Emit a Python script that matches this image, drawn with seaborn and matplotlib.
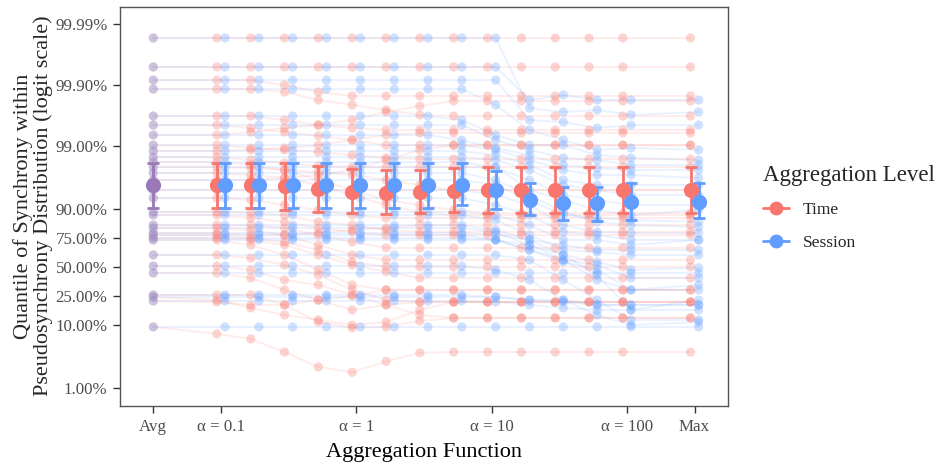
import numpy as np
import pandas as pd
import matplotlib
matplotlib.use("Agg")
import matplotlib.pyplot as plt
import seaborn as sns
from matplotlib.lines import Line2D
from matplotlib.ticker import FixedLocator, FixedFormatter, NullLocator, NullFormatter

# ---------------- data (quantiles in percent) ----------------
ALPHAS = [0.1, 0.178, 0.316, 0.562, 1.0, 1.78, 3.16, 5.62, 10.0, 17.8, 31.6, 56.2, 100.0]
LEVELS = ["Time", "Session"]
X_TICK_LABELS = ["Avg", "α = 0.1", "α = 1", "α = 10", "α = 100", "Max"]
Y_TICKS = [0.01, 0.10, 0.25, 0.50, 0.75, 0.90, 0.99, 0.999, 0.9999]
Y_TICK_LABELS = ["1.00%", "10.00%", "25.00%", "50.00%", "75.00%", "90.00%",
                 "99.00%", "99.90%", "99.99%"]

# per-subject value of the Avg aggregation (shared by both levels)
AVG = [99.983, 99.949, 99.916, 99.882, 99.673, 99.54, 99.33, 99.02, 98.78, 98.47,
       98.16, 97.78, 97.24, 96.42, 94.86, 93.16, 88.9, 87.7, 83.0, 81.4,
       78.3, 77.0, 74.9, 73.5, 61.1, 50.8, 44.2, 25.6, 24.2, 21.5, 9.3]

# per-subject values for alpha = 0.1 ... 100, then Max
TIME = [
    [99.983, 99.983, 99.983, 99.983, 99.983, 99.983, 99.983, 99.983, 99.983, 99.983, 99.983, 99.983, 99.983, 99.983],
    [99.949, 99.949, 99.949, 99.949, 99.949, 99.949, 99.949, 99.949, 99.949, 99.949, 99.949, 99.949, 99.949, 99.949],
    [99.916, 99.916, 99.899, 99.868, 99.847, 99.847, 99.847, 99.847, 99.847, 99.847, 99.847, 99.847, 99.847, 99.847],
    [99.882, 99.882, 99.868, 99.822, 99.785, 99.74, 99.686, 99.673, 99.673, 99.673, 99.673, 99.673, 99.673, 99.673],
    [99.673, 99.673, 99.62, 99.54, 99.486, 99.446, 99.446, 99.446, 99.446, 99.446, 99.446, 99.446, 99.446, 99.446],
    [99.54, 99.486, 99.40, 99.31, 99.19, 99.02, 99.02, 99.02, 99.02, 99.02, 99.02, 99.02, 99.02, 99.02],
    [99.33, 99.40, 99.486, 99.54, 99.62, 99.719, 99.776, 99.815, 99.815, 99.815, 99.815, 99.815, 99.815, 99.815],
    [99.02, 98.91, 98.83, 98.73, 98.58, 98.42, 98.35, 98.35, 98.35, 98.35, 98.35, 98.35, 98.35, 98.35],
    [98.78, 98.83, 98.91, 99.02, 99.19, 99.33, 99.38, 99.38, 99.38, 99.38, 99.38, 99.38, 99.38, 99.38],
    [98.47, 98.29, 98.09, 97.86, 97.78, 97.78, 97.78, 97.78, 97.78, 97.78, 97.78, 97.78, 97.78, 97.78],
    [98.16, 97.94, 97.52, 96.42, 94.86, 92.67, 91.26, 89.63, 88.5, 88.5, 88.5, 88.5, 88.5, 88.5],
    [97.78, 97.70, 97.52, 97.33, 97.02, 96.42, 95.71, 94.86, 94.86, 94.86, 94.86, 94.86, 94.86, 94.86],
    [97.24, 97.02, 96.68, 95.71, 93.85, 91.26, 88.9, 87.7, 87.7, 87.7, 87.7, 87.7, 87.7, 87.7],
    [96.42, 96.42, 96.68, 97.02, 97.52, 98.29, 98.83, 99.02, 99.02, 99.02, 99.02, 99.02, 99.02, 99.02],
    [94.86, 94.86, 94.86, 94.86, 94.86, 94.86, 94.86, 94.86, 94.86, 94.86, 94.86, 94.86, 94.86, 94.86],
    [93.16, 92.67, 91.26, 89.63, 87.7, 86.45, 86.45, 86.45, 86.45, 86.45, 86.45, 86.45, 86.45, 86.45],
    [88.9, 88.5, 87.7, 84.6, 83.0, 80.2, 79.0, 79.0, 79.0, 79.0, 79.0, 79.0, 79.0, 79.0],
    [87.7, 86.45, 84.6, 81.4, 79.0, 77.0, 77.0, 77.0, 77.0, 77.0, 77.0, 77.0, 77.0, 77.0],
    [83.0, 83.0, 81.4, 77.0, 72.0, 67.2, 67.2, 67.2, 67.2, 67.2, 67.2, 67.2, 67.2, 67.2],
    [81.4, 80.2, 77.0, 69.6, 61.1, 56.5, 56.5, 56.5, 56.5, 56.5, 56.5, 56.5, 56.5, 56.5],
    [78.3, 77.0, 77.0, 78.3, 80.2, 81.4, 83.0, 83.0, 83.0, 83.0, 83.0, 83.0, 83.0, 83.0],
    [77.0, 74.9, 72.0, 65.5, 54.6, 50.0, 50.0, 50.0, 50.0, 50.0, 50.0, 50.0, 50.0, 50.0],
    [74.9, 73.5, 69.6, 61.1, 51.8, 45.3, 39.6, 39.6, 39.6, 39.6, 39.6, 39.6, 39.6, 39.6],
    [73.5, 69.6, 61.1, 47.2, 33.5, 29.4, 29.4, 29.4, 29.4, 29.4, 29.4, 29.4, 29.4, 29.4],
    [61.1, 58.3, 51.8, 42.3, 29.4, 22.1, 20.9, 20.9, 20.9, 20.9, 20.9, 20.9, 20.9, 20.9],
    [50.8, 47.2, 37.8, 33.5, 25.6, 19.1, 13.9, 12.6, 12.6, 12.6, 12.6, 12.6, 12.6, 12.6],
    [44.2, 39.6, 29.4, 22.1, 16.3, 19.1, 20.9, 20.9, 20.9, 20.9, 20.9, 20.9, 20.9, 20.9],
    [25.6, 25.6, 19.1, 11.0, 9.0, 9.3, 11.4, 12.6, 12.6, 12.6, 12.6, 12.6, 12.6, 12.6],
    [22.1, 17.4, 13.9, 11.8, 9.9, 11.0, 16.3, 20.9, 20.9, 20.9, 20.9, 20.9, 20.9, 20.9],
    [20.9, 19.1, 19.1, 22.1, 24.9, 29.4, 29.4, 29.4, 29.4, 29.4, 29.4, 29.4, 29.4, 29.4],
    [7.3, 6.1, 3.8, 2.2, 1.8, 2.7, 3.7, 3.8, 3.8, 3.8, 3.8, 3.8, 3.8, 3.8],
]

SESSION = [
    [99.983, 99.983, 99.983, 99.983, 99.983, 99.983, 99.983, 99.983, 99.983, 99.758, 99.719, 99.74, 99.686, 99.719],
    [99.949, 99.949, 99.949, 99.949, 99.949, 99.949, 99.949, 99.949, 99.949, 99.822, 99.853, 99.822, 99.822, 99.822],
    [99.916, 99.916, 99.916, 99.916, 99.916, 99.916, 99.916, 99.916, 99.916, 99.62, 99.59, 99.486, 99.54, 99.54],
    [99.882, 99.882, 99.882, 99.882, 99.882, 99.882, 99.882, 99.882, 99.785, 99.446, 99.19, 98.83, 98.91, 98.83],
    [99.673, 99.673, 99.673, 99.673, 99.673, 99.673, 99.673, 99.62, 99.33, 99.02, 99.02, 98.58, 98.42, 98.29],
    [99.54, 99.54, 99.54, 99.54, 99.54, 99.54, 99.54, 99.54, 99.19, 98.83, 98.42, 98.29, 97.94, 97.94],
    [99.33, 99.33, 99.33, 99.33, 99.33, 99.33, 99.33, 99.19, 98.91, 98.58, 97.94, 97.70, 97.52, 97.52],
    [99.02, 99.02, 99.02, 99.02, 99.02, 99.02, 99.02, 99.02, 98.83, 98.29, 97.52, 97.02, 97.02, 96.68],
    [98.78, 98.78, 98.78, 98.78, 98.78, 98.78, 98.78, 98.78, 98.58, 97.94, 96.42, 95.71, 95.71, 95.71],
    [98.47, 98.47, 98.47, 98.47, 98.47, 98.47, 98.47, 98.47, 98.29, 97.52, 95.71, 94.86, 93.85, 93.85],
    [98.16, 98.16, 98.16, 98.16, 98.16, 98.16, 98.16, 98.16, 97.70, 96.42, 93.85, 92.67, 91.26, 91.26],
    [97.78, 97.78, 97.78, 97.78, 97.78, 97.78, 97.78, 97.78, 97.78, 94.86, 92.67, 89.63, 87.7, 89.63],
    [97.24, 97.24, 97.24, 97.24, 97.24, 97.24, 97.24, 97.24, 96.42, 93.85, 88.9, 84.6, 83.0, 81.9],
    [96.42, 96.42, 96.42, 96.42, 96.42, 96.42, 96.42, 96.42, 95.71, 92.67, 87.7, 86.45, 85.5, 84.6],
    [94.86, 94.86, 94.86, 94.86, 94.86, 94.86, 94.86, 94.86, 93.85, 91.26, 83.0, 79.0, 78.3, 78.3],
    [93.16, 93.16, 93.16, 93.16, 93.16, 93.16, 93.16, 93.16, 91.26, 87.7, 79.0, 77.0, 73.5, 73.5],
    [88.9, 88.9, 88.9, 88.9, 88.9, 88.9, 88.9, 88.9, 87.7, 83.0, 73.5, 73.5, 69.6, 73.5],
    [87.7, 87.7, 87.7, 87.7, 87.7, 87.7, 87.7, 87.7, 85.5, 77.0, 65.5, 63.7, 61.1, 61.1],
    [83.0, 83.0, 83.0, 83.0, 83.0, 83.0, 83.0, 83.0, 80.2, 73.5, 61.1, 54.6, 47.2, 49.1],
    [81.4, 81.4, 81.4, 81.4, 81.4, 81.4, 81.4, 81.4, 79.0, 69.6, 56.5, 51.8, 39.6, 39.6],
    [78.3, 78.3, 78.3, 78.3, 78.3, 78.3, 78.3, 78.3, 77.0, 73.5, 69.6, 65.5, 65.5, 65.5],
    [77.0, 77.0, 77.0, 77.0, 77.0, 77.0, 77.0, 77.0, 73.5, 65.5, 54.6, 47.2, 29.4, 33.5],
    [74.9, 74.9, 74.9, 74.9, 74.9, 74.9, 74.9, 74.9, 73.5, 65.5, 56.5, 37.8, 29.4, 29.4],
    [73.5, 73.5, 73.5, 73.5, 73.5, 73.5, 73.5, 73.5, 73.5, 69.6, 61.1, 42.3, 16.3, 22.1],
    [61.1, 61.1, 61.1, 61.1, 61.1, 61.1, 61.1, 61.1, 61.1, 56.5, 37.8, 22.1, 11.8, 11.8],
    [50.8, 50.8, 50.8, 50.8, 50.8, 50.8, 50.8, 50.8, 47.2, 37.8, 22.1, 13.9, 9.9, 11.0],
    [44.2, 44.2, 44.2, 44.2, 44.2, 44.2, 44.2, 44.2, 44.2, 44.2, 44.2, 44.2, 44.2, 44.2],
    [25.6, 25.6, 25.6, 25.6, 25.6, 25.6, 25.6, 25.6, 24.2, 22.1, 20.9, 19.1, 19.1, 19.1],
    [24.2, 24.2, 24.2, 24.2, 24.2, 24.2, 24.2, 24.2, 24.2, 22.1, 22.1, 19.1, 19.1, 19.1],
    [21.5, 21.5, 21.5, 21.5, 21.5, 21.5, 21.5, 21.5, 20.9, 19.1, 17.4, 16.3, 16.3, 16.3],
    [9.3, 9.3, 9.3, 9.3, 9.3, 9.3, 9.3, 9.3, 9.3, 9.3, 9.3, 9.3, 9.3, 9.3],
]

# summary points with error bars (percent): Avg, then alpha 0.1 ... 100, Max
AVG_MEAN, AVG_LO, AVG_HI = 95.71, 90.31, 98.09
TIME_MEAN = [95.71, 95.71, 95.55, 95.04, 94.47, 94.27, 94.47, 94.67, 94.86, 94.86, 94.86, 94.86, 94.86, 94.86]
TIME_LO = [90.31, 90.31, 89.63, 88.9, 88.5, 88.1, 88.5, 88.9, 88.5, 88.5, 88.5, 88.5, 88.5, 88.5]
TIME_HI = [98.09, 98.09, 98.09, 97.86, 97.61, 97.52, 97.52, 97.70, 97.78, 97.78, 97.78, 97.78, 97.78, 97.78]
SESSION_MEAN = [95.71, 95.71, 95.71, 95.71, 95.71, 95.71, 95.71, 95.71, 94.86, 92.67, 91.85, 91.85, 92.13, 92.13]
SESSION_LO = [90.31, 90.31, 90.31, 90.31, 90.31, 90.31, 90.31, 91.26, 89.97, 87.7, 85.5, 85.06, 85.5, 86.45]
SESSION_HI = [98.09, 98.09, 98.09, 98.09, 98.09, 98.09, 98.09, 98.09, 97.43, 96.0, 95.39, 95.39, 96.0, 96.0]

# ---------------- layout / style ----------------
COLORS = {"Time": "#F8766D", "Session": "#619CFF"}
AVG_COLOR = "#9B79B8"
AVG_X, MAX_X = -1.5, 2.5
DODGE = {"Time": -0.03, "Session": 0.03}
POS = list(np.log10(ALPHAS)) + [MAX_X]

sns.set_style("white")
plt.rcParams["font.family"] = ["Liberation Serif", "DejaVu Serif"]

rows = []
for i, avg in enumerate(AVG):
    for level, series in (("Time", TIME[i]), ("Session", SESSION[i])):
        rows.append((i, level, AVG_X, avg / 100))
        for p, v in zip(POS, series):
            rows.append((i, level, p + DODGE[level], v / 100))
df = pd.DataFrame(rows, columns=["subject", "level", "x", "q"])

fig = plt.figure(figsize=(9.39, 4.67), dpi=100)
ax = fig.add_axes([0.1278, 0.1306, 0.6475, 0.8544])
ax.set_yscale("logit")

sns.lineplot(data=df, x="x", y="q", hue="level", units="subject", estimator=None,
             palette=COLORS, alpha=0.13, linewidth=1.4, sort=False, legend=False, ax=ax)
sns.scatterplot(data=df, x="x", y="q", hue="level", palette=COLORS, alpha=0.3,
                s=44, linewidth=0, legend=False, ax=ax, zorder=2)

# summary: Avg
ax.errorbar([AVG_X], [AVG_MEAN / 100],
            yerr=[[(AVG_MEAN - AVG_LO) / 100], [(AVG_HI - AVG_MEAN) / 100]],
            fmt="none", ecolor=AVG_COLOR, elinewidth=2, capsize=4.6, capthick=2, zorder=3)
sns.scatterplot(x=[AVG_X], y=[AVG_MEAN / 100], color=AVG_COLOR, s=120, linewidth=0,
                ax=ax, zorder=4, legend=False)

for level, mean, lo, hi in (("Time", TIME_MEAN, TIME_LO, TIME_HI),
                            ("Session", SESSION_MEAN, SESSION_LO, SESSION_HI)):
    xs = [p + DODGE[level] for p in POS]
    m = np.array(mean) / 100
    l = np.array(lo) / 100
    h = np.array(hi) / 100
    ax.errorbar(xs, m, yerr=[m - l, h - m], fmt="none", ecolor=COLORS[level],
                elinewidth=2, capsize=4.6, capthick=2, zorder=3)
    sns.scatterplot(x=xs, y=m, color=COLORS[level], s=120, linewidth=0, ax=ax,
                    zorder=4, legend=False)

# axes
ax.set_xlim(-1.746, 2.747)
ax.set_ylim(0.00508, 0.9999475)
ax.yaxis.set_major_locator(FixedLocator(Y_TICKS))
ax.yaxis.set_major_formatter(FixedFormatter(Y_TICK_LABELS))
ax.yaxis.set_minor_locator(NullLocator())
ax.yaxis.set_minor_formatter(NullFormatter())
ax.set_xticks([AVG_X, -1, 0, 1, 2, MAX_X])
ax.set_xticklabels(X_TICK_LABELS)
ax.tick_params(axis="both", which="major", length=5, width=1, color="#333333",
               labelcolor="#4D4D4D", labelsize=12.2, pad=4, direction="out")
ax.tick_params(bottom=True, left=True)
for sp in ax.spines.values():
    sp.set_color("#555555")
    sp.set_linewidth(1.0)
ax.grid(False)

ax.set_xlabel("Aggregation Function", fontsize=16, labelpad=6, color="black")
ax.set_ylabel("")
fig.text(33 / 939, 1 - 206 / 467,
         "Quantile of Synchrony within\nPseudosynchrony Distribution (logit scale)",
         rotation=90, ha="center", va="center", fontsize=16, linespacing=1.05,
         multialignment="center")

handles = [Line2D([0], [0], color=COLORS[l], marker="o", markersize=9, linewidth=2)
           for l in LEVELS]
leg = fig.legend(handles, LEVELS, title="Aggregation Level", loc="center left",
                 bbox_to_anchor=(0.796, 0.555), frameon=False, fontsize=12.5,
                 title_fontsize=16.5, handlelength=1.5, handletextpad=0.8,
                 labelspacing=0.95, alignment="left")

fig.savefig("out.png", dpi=100)
